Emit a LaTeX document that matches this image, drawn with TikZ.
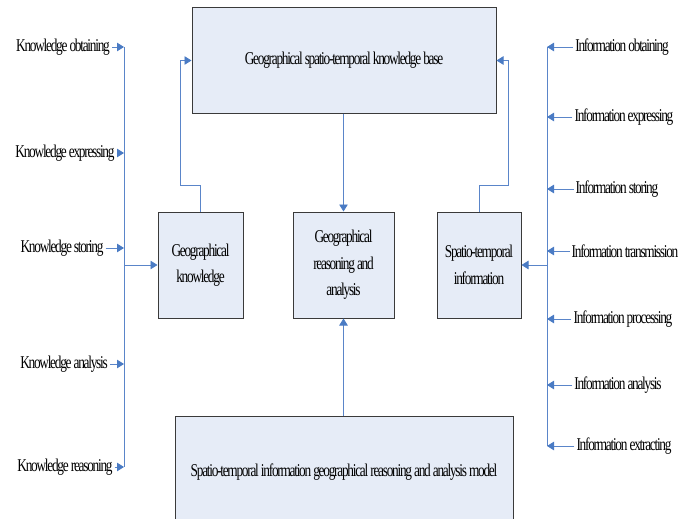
\documentclass[tikz,border=0pt]{standalone}
\usepackage{fontspec}
\setmainfont{Liberation Serif}[FakeStretch=0.74,LetterSpace=-7]
\usetikzlibrary{arrows.meta}

\definecolor{linkblue}{HTML}{5A85C9}
\definecolor{tipblue}{HTML}{4A7BC4}
\definecolor{boxfill}{HTML}{E6ECF7}
\definecolor{boxline}{HTML}{3A3A3A}

\begin{document}
\begin{tikzpicture}[x=1pt,y=-1pt,
  box/.style={draw=boxline, fill=boxfill, line width=1pt, inner sep=0pt,
    align=center, font=\fontsize{18}{26.5}\selectfont},
  label/.style={inner sep=2pt, font=\fontsize{18}{20}\selectfont},
  link/.style={draw=linkblue, line width=0.8pt},
  arr/.style={link, -{Triangle[length=7pt,width=8.5pt,fill=tipblue,color=tipblue]}}
]
\useasboundingbox (0,0) rectangle (691,519);

% boxes
\node[box, minimum width=304pt, minimum height=105pt] (kb) at (344,60.5)
  {\raisebox{-2pt}{Geographical spatio-temporal knowledge base}};
\node[box, minimum width=85pt, minimum height=106pt] (gk) at (200.5,265)
  {Geographical\\knowledge};
\node[box, minimum width=101pt, minimum height=106pt] (gra) at (343.5,265)
  {Geographical\\reasoning and\\analysis};
\node[box, minimum width=84pt, minimum height=106pt] (sti) at (479,265)
  {Spatio-temporal\\information};
\node[box, minimum width=338pt, minimum height=124pt, text depth=0pt] (model) at (344,478)
  {\raisebox{15pt}{Spatio-temporal information geographical reasoning and analysis model}};

% left collector line
\coordinate (lt) at (124,47);
\coordinate (lb) at (124,467);
\coordinate (lm) at (124,265);
\draw[link] (lt) -- (lb);

\node[label] (k1) at (63,47)  {Knowledge obtaining};
\node[label] (k2) at (65,153) {Knowledge expressing};
\node[label] (k3) at (62,248) {Knowledge storing};
\node[label] (k4) at (64,364) {Knowledge analysis};
\node[label] (k5) at (65,467) {Knowledge reasoning};
\coordinate (c1) at (124,47);
\coordinate (c2) at (124,153);
\coordinate (c3) at (124,248);
\coordinate (c4) at (124,364);
\coordinate (c5) at (124,467);
\foreach \i in {1,...,5} \draw[arr] (k\i.east) -- (c\i);
\draw[arr] (lm) -- (gk.west);

% right collector line
\coordinate (rt) at (547,47);
\coordinate (rb) at (547,446);
\coordinate (rm) at (547,265);
\draw[link] (rt) -- (rb);

\node[label] (i1) at (622,47)  {Information obtaining};
\node[label] (i2) at (624,117) {Information expressing};
\node[label] (i3) at (617,189) {Information storing};
\node[label] (i4) at (625,251) {Information transmission};
\node[label] (i5) at (623,319) {Information processing};
\node[label] (i6) at (618,385) {Information analysis};
\node[label] (i7) at (624,446) {Information extracting};
\coordinate (d1) at (547,47);
\coordinate (d2) at (547,117);
\coordinate (d3) at (547,189);
\coordinate (d4) at (547,251);
\coordinate (d5) at (547,319);
\coordinate (d6) at (547,385);
\coordinate (d7) at (547,446);
\foreach \i in {1,...,7} \draw[arr] (i\i.west) -- (d\i);
\draw[arr] (rm) -- (sti.east);

% feedback into the knowledge base
\coordinate (gkbend) at (180,185);
\coordinate (stbend) at (508,185);
\draw[arr] (gk.north) |- (gkbend) |- (kb.west);
\draw[arr] (sti.north) |- (stbend) |- (kb.east);

% knowledge base and model feed the reasoning box
\draw[arr] (kb.south -| gra.north) -- (gra.north);
\draw[arr] (model.north -| gra.south) -- (gra.south);
\end{tikzpicture}
\end{document}
